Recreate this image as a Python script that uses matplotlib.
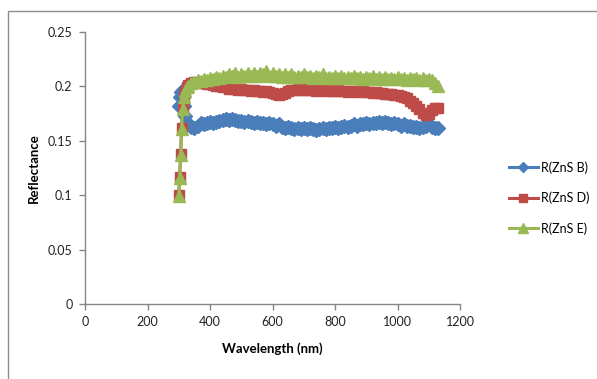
import matplotlib
matplotlib.use("Agg")
import matplotlib.pyplot as plt
from matplotlib.patches import Rectangle

# Wavelength grid (nm): finer steps across the absorption edge, then 10 nm
wavelength = [300, 303, 306, 309, 312, 316, 320, 325] + list(range(330, 1131, 10))

refl_B = [0.182, 0.190, 0.195, 0.196, 0.190, 0.182, 0.173, 0.167,
          0.165, 0.163, 0.162, 0.164, 0.166, 0.165, 0.166, 0.167, 0.166, 0.167,
          0.168, 0.169, 0.170, 0.169, 0.170, 0.169, 0.168, 0.168, 0.167, 0.168,
          0.167, 0.166, 0.167, 0.166, 0.166, 0.165, 0.166, 0.165, 0.164, 0.165,
          0.163, 0.162, 0.163, 0.162, 0.161, 0.162, 0.161, 0.162, 0.161, 0.162,
          0.161, 0.160, 0.161, 0.162, 0.161, 0.162, 0.162, 0.163, 0.162, 0.163,
          0.164, 0.163, 0.164, 0.165, 0.164, 0.165, 0.165, 0.166, 0.165, 0.166,
          0.166, 0.167, 0.166, 0.167, 0.166, 0.165, 0.166, 0.165, 0.164, 0.165,
          0.164, 0.164, 0.163, 0.163, 0.162, 0.163, 0.164, 0.165, 0.163, 0.162,
          0.162]

refl_D = [0.100, 0.117, 0.138, 0.162, 0.180, 0.190, 0.195, 0.199,
          0.201, 0.203, 0.204, 0.203, 0.204, 0.203, 0.202, 0.202, 0.201, 0.200,
          0.200, 0.199, 0.199, 0.198, 0.199, 0.198, 0.197, 0.198, 0.197, 0.197,
          0.196, 0.197, 0.196, 0.196, 0.195, 0.196, 0.195, 0.194, 0.193, 0.192,
          0.193, 0.194, 0.196, 0.197, 0.197, 0.198, 0.197, 0.197, 0.198, 0.197,
          0.197, 0.196, 0.197, 0.197, 0.196, 0.197, 0.196, 0.196, 0.197, 0.196,
          0.196, 0.195, 0.196, 0.196, 0.195, 0.196, 0.196, 0.195, 0.195, 0.194,
          0.195, 0.194, 0.194, 0.193, 0.193, 0.193, 0.192, 0.192, 0.191, 0.190,
          0.189, 0.187, 0.185, 0.182, 0.179, 0.176, 0.174, 0.175, 0.178, 0.180,
          0.180]

refl_E = [0.099, 0.116, 0.137, 0.161, 0.179, 0.190, 0.196, 0.199,
          0.200, 0.203, 0.204, 0.206, 0.205, 0.207, 0.206, 0.208, 0.207, 0.209,
          0.208, 0.210, 0.209, 0.211, 0.210, 0.212, 0.209, 0.211, 0.210, 0.212,
          0.210, 0.212, 0.210, 0.212, 0.211, 0.214, 0.210, 0.212, 0.210, 0.211,
          0.209, 0.211, 0.209, 0.211, 0.209, 0.210, 0.209, 0.211, 0.209, 0.210,
          0.208, 0.210, 0.209, 0.211, 0.208, 0.209, 0.208, 0.210, 0.208, 0.210,
          0.208, 0.209, 0.208, 0.210, 0.208, 0.209, 0.207, 0.209, 0.208, 0.210,
          0.207, 0.209, 0.207, 0.209, 0.207, 0.208, 0.207, 0.209, 0.207, 0.208,
          0.206, 0.208, 0.207, 0.208, 0.206, 0.208, 0.206, 0.207, 0.206, 0.203,
          0.200]

series_labels = ["R(ZnS B)", "R(ZnS D)", "R(ZnS E)"]
x_ticks = [0, 200, 400, 600, 800, 1000, 1200]
y_ticks = [0, 0.05, 0.1, 0.15, 0.2, 0.25]
y_tick_labels = ["0", "0.05", "0.1", "0.15", "0.2", "0.25"]

plt.rcParams["font.family"] = ["Lato", "DejaVu Sans"]

fig = plt.figure(figsize=(5.97, 3.79), dpi=100)
fig.patch.set_facecolor("white")

# chart-area border
fig.patches.append(Rectangle((8 / 597, -0.05), 1.2, 1 - 11 / 379 + 0.05,
                             transform=fig.transFigure, fill=False,
                             edgecolor="#8c8c8c", linewidth=1.0))

ax = fig.add_axes([85 / 597, 1 - 304 / 379, 375 / 597, 272 / 379])

styles = [
    dict(color="#4A7EBB", marker="D", markersize=7.0),
    dict(color="#BE4B48", marker="s", markersize=7.5),
    dict(color="#98B954", marker="^", markersize=8.5),
]
for vals, lab, st in zip([refl_B, refl_D, refl_E], series_labels, styles):
    ax.plot(wavelength, vals, color=st["color"], linewidth=2.2,
            marker=st["marker"], markersize=st["markersize"],
            markerfacecolor=st["color"], markeredgecolor=st["color"],
            label=lab)

ax.set_xlim(0, 1200)
ax.set_ylim(0, 0.25)
ax.set_xticks(x_ticks)
ax.set_yticks(y_ticks)
ax.set_yticklabels(y_tick_labels)

for side in ("top", "right"):
    ax.spines[side].set_visible(False)
for side in ("left", "bottom"):
    ax.spines[side].set_color("#868686")
    ax.spines[side].set_linewidth(1.0)
ax.tick_params(direction="out", length=4, width=1.0, color="#868686",
               labelsize=9, labelcolor="#222222", pad=5)

ax.set_xlabel("Wavelength (nm)", fontsize=9.5, fontweight="bold", labelpad=10)
ax.set_ylabel("Reflectance", fontsize=9.5, fontweight="bold", labelpad=6)

leg = ax.legend(loc="center left", bbox_to_anchor=(1.1, 0.39), frameon=False,
                fontsize=9, handlelength=2.3, labelspacing=1.45,
                handletextpad=0.25, markerscale=0.8)

fig.savefig("out.png", dpi=100)
